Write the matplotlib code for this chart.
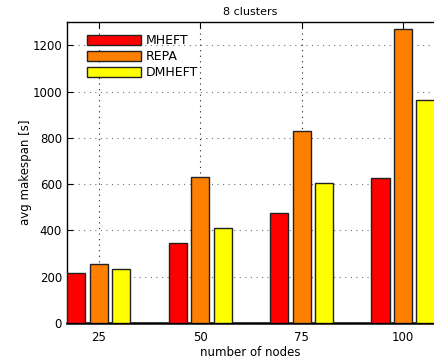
import numpy as np
import matplotlib
matplotlib.use("Agg")
import matplotlib.pyplot as plt

nodos = [25, 50, 75, 100]
mheft = [216, 348, 475, 625]
repa = [255, 630, 828, 1272]
dmheft = [232, 410, 607, 963]

series = [("MHEFT", mheft, "#ff0000"),
          ("REPA", repa, "#ff8000"),
          ("DMHEFT", dmheft, "#ffff00")]

fig = plt.figure(figsize=(4.34, 3.63), dpi=100)
ax = fig.add_axes([0.154, 0.110, 0.846, 0.829])

x = np.arange(1, len(nodos) + 1)
largura = 0.18
passo = 0.222
for i, (nome, valores, cor) in enumerate(series):
    ax.bar(x + (i - 1) * passo, valores, largura, color=cor,
           edgecolor="#222222", linewidth=1.0, label=nome, zorder=3)

ax.set_xlim(0.685, 4.305)
ax.set_ylim(0, 1300)
ax.set_xticks(x)
ax.set_xticklabels([str(n) for n in nodos])
ax.set_yticks(range(0, 1201, 200))

# grade pontilhada: vertical mais escura, horizontal cinza
ax.xaxis.grid(True, linestyle=(0, (1, 4)), color="0.1", linewidth=0.8, zorder=0)
ax.yaxis.grid(True, linestyle=(0, (1, 4)), color="0.45", linewidth=0.8, zorder=0)
ax.set_axisbelow(True)
ax.tick_params(axis="both", direction="in", labelsize=8.5, length=4,
               top=True, right=False)
ax.tick_params(axis="x", pad=6)
ax.spines["right"].set_visible(False)
ax.spines["bottom"].set_linewidth(1.8)
for lado in ["left", "top"]:
    ax.spines[lado].set_linewidth(1.0)

ax.set_title("8 clusters", fontsize=8, pad=5)
ax.set_xlabel("number of nodes", fontsize=8.5, labelpad=1)
ax.set_ylabel("avg makespan [s]", fontsize=8.5)
ax.yaxis.set_label_coords(-0.096, 0.5)

ax.legend(loc="upper left", bbox_to_anchor=(0.035, 0.985), frameon=False,
          fontsize=9, handlelength=4.3, handleheight=0.9,
          labelspacing=0.25, handletextpad=0.4, borderaxespad=0.2)

fig.savefig("out.png", dpi=100)
